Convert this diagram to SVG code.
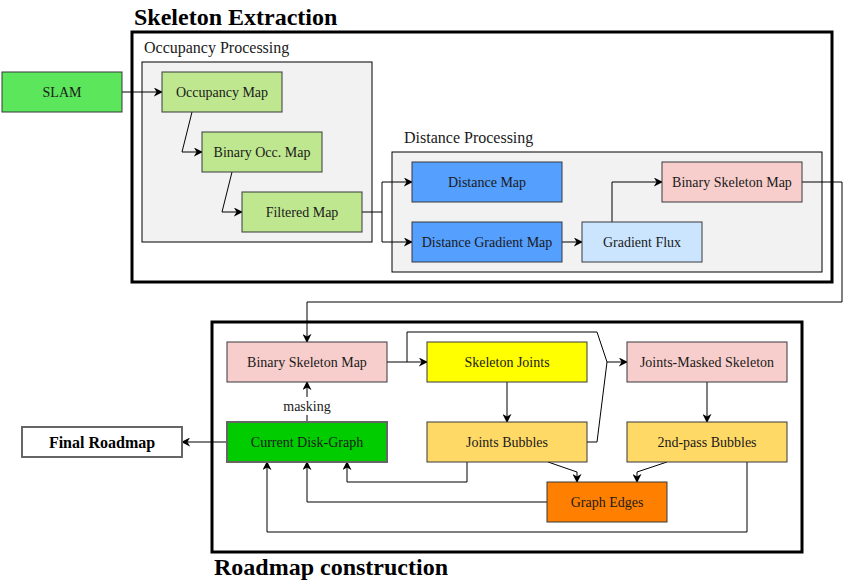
<svg xmlns="http://www.w3.org/2000/svg" width="853" height="585" viewBox="0 0 853 585">
<defs>
<marker id="arr" viewBox="0 0 10 10" refX="9" refY="5" markerWidth="9" markerHeight="9" markerUnits="userSpaceOnUse" orient="auto">
<path d="M0,0 L10,5 L0,10 L3,5 Z" fill="#000"/>
</marker>
<style>
text{font-family:"Liberation Serif","Times New Roman",serif;fill:#1a1a1a}
.n{stroke:#36393d;stroke-width:1}
.t{font-size:14px;text-anchor:middle;dominant-baseline:central}
.c{fill:none;stroke:#000;stroke-width:1}
.a{marker-end:url(#arr)}
.grp{fill:#f2f2f2;stroke:#000;stroke-width:1}
.big{fill:none;stroke:#000;stroke-width:3}
.title{font-size:24px;font-weight:bold;fill:#000}
.lbl{font-size:16px}
</style>
</defs>
<rect width="853" height="585" fill="#fff"/>
<g id="skeleton-extraction">
<rect class="big" x="132" y="32" width="700" height="250"/>
<text class="title" x="134" y="25">Skeleton Extraction</text>
</g>
<g id="occupancy-processing">
<rect class="grp" x="142" y="62" width="230" height="180"/>
<text class="lbl" x="144" y="53">Occupancy Processing</text>
</g>
<g id="distance-processing">
<rect class="grp" x="392" y="152" width="430" height="120"/>
<text class="lbl" x="404" y="143">Distance Processing</text>
</g>
<g id="roadmap-construction">
<rect class="big" x="212" y="322" width="590" height="230"/>
<text class="title" x="214" y="575">Roadmap construction</text>
</g>
<g id="connectors">
<path class="c a" d="M122,92 H162"/>
<path class="c a" d="M192,112 L182,152 H202"/>
<path class="c a" d="M232,172 L222,212 H242"/>
<path class="c a" d="M362,212 H382 V182 H412"/>
<path class="c a" d="M382,212 V242 H412"/>
<path class="c a" d="M562,242 H582"/>
<path class="c a" d="M612,222 V182 H662"/>
<path class="c a" d="M802,182 H842 V302 H307 V342"/>
<path class="c a" d="M387,362 H427"/>
<path class="c a" d="M407,362 V332 H597 L607,362 H627"/>
<path class="c" d="M587,442 H597 L607,362"/>
<path class="c a" d="M507,382 V422"/>
<path class="c a" d="M707,382 V422"/>
<path class="c a" d="M307,422 V382"/>
<path class="c a" d="M227,442 H182"/>
<path class="c a" d="M467,462 V482 H347 V462"/>
<path class="c a" d="M548,462 L577,472 V482"/>
<path class="c a" d="M667,462 L637,472 V482"/>
<path class="c a" d="M547,502 H307 V462"/>
<path class="c a" d="M747,462 V532 H267 V462"/>
<rect x="280" y="397" width="54" height="18" fill="#fff"/>
<text class="t" x="307" y="406">masking</text>
</g>
<g id="slam"><rect class="n" x="2" y="72" width="120" height="40" fill="#5ce65c"/><text class="t" x="62" y="92">SLAM</text></g>
<g id="occupancy-map"><rect class="n" x="162" y="72" width="120" height="40" fill="#bfe78f"/><text class="t" x="222" y="92">Occupancy Map</text></g>
<g id="binary-occ-map"><rect class="n" x="202" y="132" width="120" height="40" fill="#bfe78f"/><text class="t" x="262" y="152">Binary Occ. Map</text></g>
<g id="filtered-map"><rect class="n" x="242" y="192" width="120" height="40" fill="#bfe78f"/><text class="t" x="302" y="212">Filtered Map</text></g>
<g id="distance-map"><rect class="n" x="412" y="162" width="150" height="40" fill="#559fff"/><text class="t" x="487" y="182">Distance Map</text></g>
<g id="distance-gradient-map"><rect class="n" x="412" y="222" width="150" height="40" fill="#559fff"/><text class="t" x="487" y="242">Distance Gradient Map</text></g>
<g id="gradient-flux"><rect class="n" x="582" y="222" width="120" height="40" fill="#cce5ff"/><text class="t" x="642" y="242">Gradient Flux</text></g>
<g id="binary-skeleton-map-1"><rect class="n" x="662" y="162" width="140" height="40" fill="#f8cecc"/><text class="t" x="732" y="182">Binary Skeleton Map</text></g>
<g id="binary-skeleton-map-2"><rect class="n" x="227" y="342" width="160" height="40" fill="#f8cecc"/><text class="t" x="307" y="362">Binary Skeleton Map</text></g>
<g id="skeleton-joints"><rect class="n" x="427" y="342" width="160" height="40" fill="#ffff00"/><text class="t" x="507" y="362">Skeleton Joints</text></g>
<g id="joints-masked-skeleton"><rect class="n" x="627" y="342" width="160" height="40" fill="#f8cecc"/><text class="t" x="707" y="362">Joints-Masked Skeleton</text></g>
<g id="current-disk-graph"><rect x="227" y="422" width="160" height="40" fill="#00cc00" stroke="#666" stroke-width="2"/><text class="t" x="307" y="442">Current Disk-Graph</text></g>
<g id="joints-bubbles"><rect class="n" x="427" y="422" width="160" height="40" fill="#ffd966"/><text class="t" x="507" y="442">Joints Bubbles</text></g>
<g id="second-pass-bubbles"><rect class="n" x="627" y="422" width="160" height="40" fill="#ffd966"/><text class="t" x="707" y="442">2nd-pass Bubbles</text></g>
<g id="graph-edges"><rect class="n" x="547" y="482" width="120" height="40" fill="#ff8000"/><text class="t" x="607" y="502">Graph Edges</text></g>
<g id="final-roadmap"><rect x="22" y="427" width="160" height="30" fill="#fff" stroke="#666" stroke-width="2"/><text class="t" x="102" y="442" style="font-weight:bold;fill:#000;font-size:16px">Final Roadmap</text></g>
</svg>
